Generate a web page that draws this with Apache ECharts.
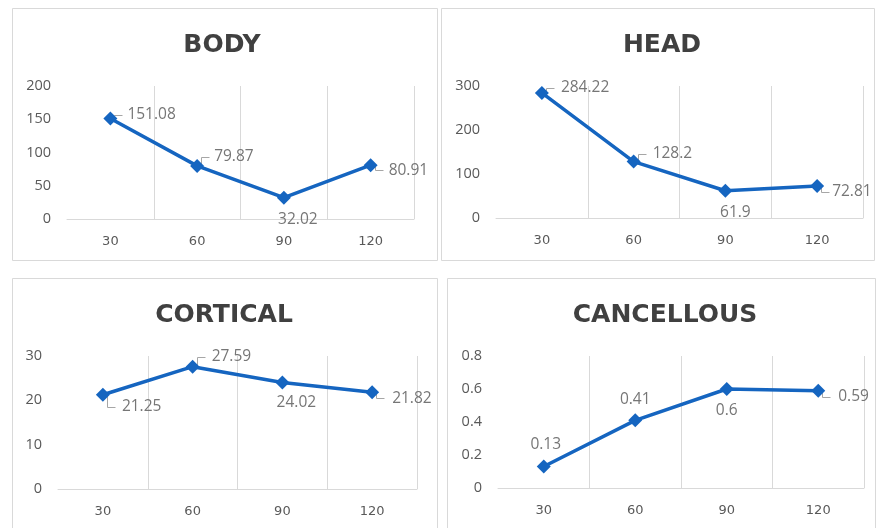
<!DOCTYPE html>
<html>
<head>
<meta charset="utf-8">
<script src="https://cdn.jsdelivr.net/npm/echarts@6/dist/echarts.min.js"></script>
<style>
  html, body { margin: 0; padding: 0; background: #ffffff; }
  #chart { width: 876px; height: 528px; }
</style>
</head>
<body>
<div id="chart"></div>
<script>
// Time points shared by all four panels
const categories = ['30', '60', '90', '120'];

// Measured values per region
const bodyValues = [151.08, 79.87, 32.02, 80.91];
const headValues = [284.22, 128.2, 61.9, 72.81];
const corticalValues = [21.25, 27.59, 24.02, 21.82];
const cancellousValues = [0.13, 0.41, 0.6, 0.59];

// Panel titles
const panelTitles = ['BODY', 'HEAD', 'CORTICAL', 'CANCELLOUS'];

// Value axis ranges
const axisMax = [200, 300, 30, 0.8];
const axisStep = [50, 100, 10, 0.2];

const BLUE = '#1565c0';
const AXIS_TEXT = '#595959';
const LABEL_TEXT = '#767676';
const GRID_LINE = '#d9d9d9';

// Panel geometry (frame + plotting area)
const panels = [
  { frame: [12, 8, 425, 252], grid: { left: 67, top: 86, width: 347, height: 133 }, titleX: 222, titleY: 33 },
  { frame: [441, 8, 433, 252], grid: { left: 496, top: 86, width: 367, height: 132 }, titleX: 662, titleY: 33 },
  { frame: [12, 278, 425, 262], grid: { left: 58, top: 356, width: 359, height: 133 }, titleX: 224, titleY: 303 },
  { frame: [447, 278, 428, 262], grid: { left: 498, top: 356, width: 366, height: 132 }, titleX: 665, titleY: 303 }
];

// Data-label placement for each point: [position, dx, dy, leader line]
const labelPlacement = [
  [['right', 5, -4, true], ['right', 5, -9, true], ['bottom', 14, 2, false], ['right', 6, 5, true]],
  [['right', 7, -5, true], ['right', 7, -8, true], ['bottom', 10, 2, false], ['right', 3, 6, true]],
  [['right', 7, 12, true], ['right', 7, -10, true], ['bottom', 14, 0, false], ['right', 8, 6, true]],
  [['top', 2, -2, false], ['top', 0, -1, false], ['bottom', 0, 2, false], ['right', 8, 6, true]]
];

const seriesValues = [bodyValues, headValues, corticalValues, cancellousValues];

const option = {
  backgroundColor: '#ffffff',
  animation: false,
  graphic: panels.map(p => ({
    type: 'rect',
    shape: { x: p.frame[0] + 0.5, y: p.frame[1] + 0.5, width: p.frame[2], height: p.frame[3] },
    style: { fill: 'none', stroke: GRID_LINE, lineWidth: 1 },
    silent: true
  })),
  title: panels.map((p, i) => ({
    text: panelTitles[i],
    left: p.titleX,
    top: p.titleY,
    textAlign: 'center',
    padding: 0,
    textStyle: {
      fontFamily: 'DejaVu Sans',
      fontWeight: 'bold',
      fontSize: 25,
      color: '#404040'
    }
  })),
  grid: panels.map(p => Object.assign({ containLabel: false }, p.grid)),
  xAxis: panels.map((p, i) => ({
    type: 'category',
    gridIndex: i,
    data: categories,
    boundaryGap: true,
    axisLine: { show: true, lineStyle: { color: GRID_LINE, width: 1 } },
    axisTick: { show: false },
    axisLabel: { color: AXIS_TEXT, fontFamily: 'DejaVu Sans', fontSize: 13, margin: 16 },
    splitLine: { show: true, showMinLine: false, showMaxLine: true, lineStyle: { color: GRID_LINE, width: 1 } }
  })),
  yAxis: panels.map((p, i) => ({
    type: 'value',
    gridIndex: i,
    min: 0,
    max: axisMax[i],
    interval: axisStep[i],
    axisLine: { show: false },
    axisTick: { show: false },
    splitLine: { show: false },
    axisLabel: { color: AXIS_TEXT, fontFamily: 'Open Sans', fontSize: 14.5, margin: 16 }
  })),
  series: seriesValues.map((vals, i) => ({
    type: 'line',
    xAxisIndex: i,
    yAxisIndex: i,
    data: vals.map((v, j) => ({
      value: v,
      label: {
        position: labelPlacement[i][j][0],
        offset: [labelPlacement[i][j][1], labelPlacement[i][j][2]]
      }
    })),
    symbol: 'diamond',
    symbolSize: 14,
    lineStyle: { color: BLUE, width: 3.5 },
    itemStyle: { color: BLUE },
    label: {
      show: true,
      color: LABEL_TEXT,
      fontFamily: 'Open Sans',
      fontSize: 15.5,
      formatter: p => String(p.value)
    }
  }))
};

const chart = echarts.init(document.getElementById('chart'), null, { renderer: 'canvas' });
chart.setOption(option);

// Short leader ticks joining each marker to its label
const leaders = [];
seriesValues.forEach((vals, i) => {
  vals.forEach((v, j) => {
    if (!labelPlacement[i][j][3]) return;
    const pt = chart.convertToPixel({ gridIndex: i }, [categories[j], v]);
    const dy = labelPlacement[i][j][2];
    const yEnd = Math.round(pt[1] + dy) + 0.5;
    const x0 = Math.round(pt[0] + 4) + 0.5;
    leaders.push({
      type: 'polyline',
      silent: true,
      z: 0,
      shape: { points: [[x0, Math.round(pt[1]) + 0.5], [x0, yEnd], [x0 + 8, yEnd]] },
      style: { stroke: '#a6a6a6', lineWidth: 1, fill: 'none' }
    });
  });
});
chart.setOption({ graphic: option.graphic.concat(leaders) });
</script>
</body>
</html>
